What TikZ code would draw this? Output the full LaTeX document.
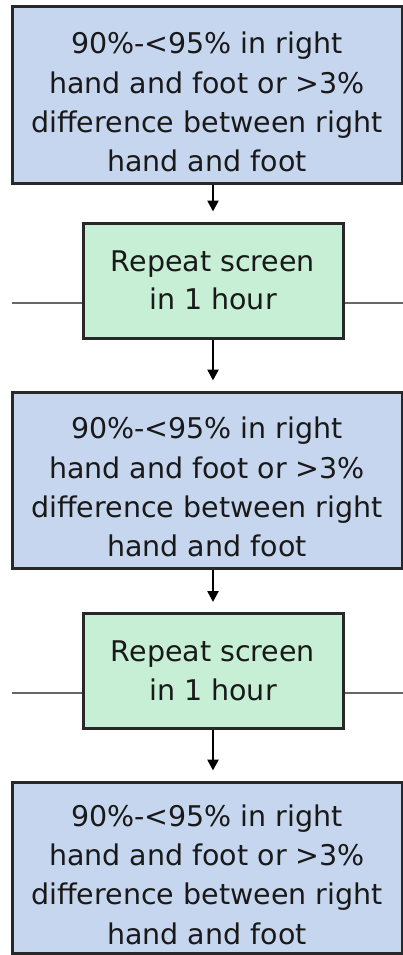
\documentclass[tikz,border=0pt]{standalone}
\usepackage{fontspec}
\setmainfont{DejaVu Sans}
\usepackage{tikz}
\usetikzlibrary{arrows.meta}
\definecolor{critblue}{RGB}{198,214,238}
\definecolor{repgreen}{RGB}{198,239,214}
\definecolor{boxline}{RGB}{40,40,40}
\newcommand{\crittext}{\rule{0pt}{36pt}90\%-<95\% in right\\hand and foot or >3\%\\difference between right\\hand and foot}
\tikzset{
every picture/.style={
line width=2.5pt
},
critbox/.style={fill=critblue, draw=boxline, line width=3pt, align=center, inner sep=0pt,
  minimum width=390pt, minimum height=176pt, font=\fontsize{28.5}{39.3}\selectfont, text=black!90},
repbox/.style={fill=repgreen, draw=boxline, line width=3pt, align=center, inner sep=0pt,
  minimum width=260pt, minimum height=115pt, font=\fontsize{28.5}{38.5}\selectfont, text=black!90},
down/.style={-{Triangle[width=11pt,length=11pt]}, black, shorten >=10pt},
side/.style={draw=black!60, line width=2.8pt}
}

\begin{document}
\begin{tikzpicture}[x=1pt, y=-1pt]
  \useasboundingbox (0,0) rectangle (403,955);

  \node (c1) [critbox] at (207,95) {\crittext};
  \node (r1) [repbox] at (213,280.5) {Repeat screen\\in 1 hour};
  \node (c2) [critbox] at (207,480) {\crittext};
  \node (r2) [repbox] at (213,671) {Repeat screen\\in 1 hour};
  \node (c3) [critbox, minimum height=171pt] at (207,867.5) {\crittext};

  \draw [down] (r1.north |- c1.south) -- (r1.north);
  \draw [down] (r1.south) -- (r1.south |- c2.north);
  \draw [down] (r2.north |- c2.south) -- (r2.north);
  \draw [down] (r2.south) -- (r2.south |- c3.north);

  % lines leaving the repeat boxes sideways
  \coordinate (l1) at (12,303);
  \coordinate (e1) at (403,303);
  \coordinate (l2) at (12,693);
  \coordinate (e2) at (403,693);
  \draw [side] (l1) -- (l1 -| r1.west);
  \draw [side] (r1.east |- e1) -- (e1);
  \draw [side] (l2) -- (l2 -| r2.west);
  \draw [side] (r2.east |- e2) -- (e2);

\end{tikzpicture}
\end{document}
